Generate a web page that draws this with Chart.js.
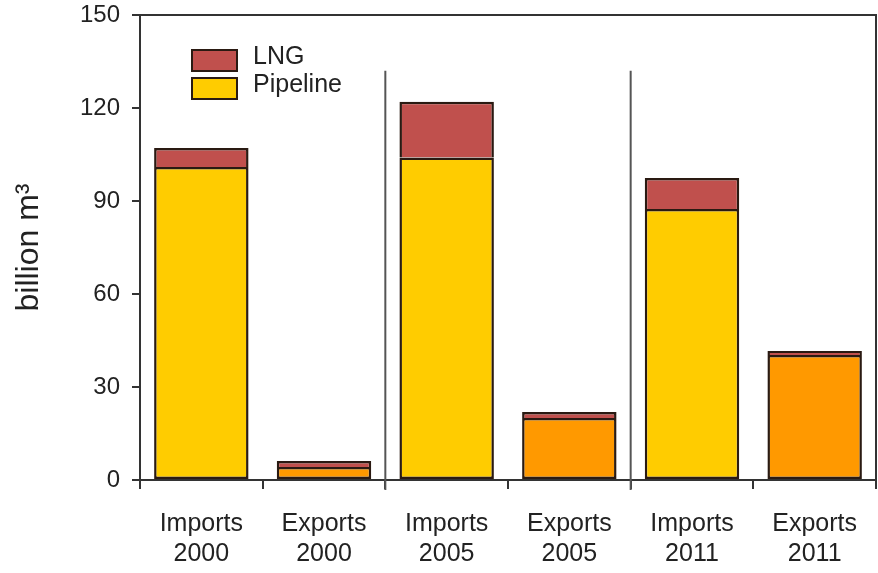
<!DOCTYPE html>
<html>
<head>
<meta charset="utf-8">
<script src="https://cdn.jsdelivr.net/npm/chart.js@4/dist/chart.umd.min.js"></script>
<style>
  html, body { margin: 0; padding: 0; background: #fff; }
  #wrap { width: 878px; height: 573px; position: relative; }
</style>
</head>
<body>
<div id="wrap"><canvas id="gasChart"></canvas></div>
<script>
// categories (two-line labels)
const flows = ["Imports", "Exports", "Imports", "Exports", "Imports", "Exports"];
const years = ["2000", "2000", "2005", "2005", "2011", "2011"];

// billion m3
const pipeline = [101, 4.2, 104, 20, 87.4, 40.3];
const lng = [6.1, 1.9, 18, 1.9, 10, 1.3];

const yTicks = [0, 30, 60, 90, 120, 150];
const dividerTop = 132; // value where the group separators start

const pipelineColors = ["#FFCC00", "#FF9900", "#FFCC00", "#FF9900", "#FFCC00", "#FF9900"];
const lngColor = "#C0504D";
const edge = "#2a1a12";
const ink = "#222";
const font = "'Liberation Sans', Arial, sans-serif";

const labels = flows.map((f, i) => [f, years[i]]);

const decorPlugin = {
  id: "decor",
  afterDatasetsDraw(chart) {
    const { ctx, chartArea: a, scales } = chart;
    const x = scales.x, y = scales.y;
    ctx.save();

    // top + right frame
    ctx.strokeStyle = "#333";
    ctx.lineWidth = 2;
    ctx.beginPath();
    ctx.moveTo(a.left - 8, a.top);
    ctx.lineTo(a.right, a.top);
    ctx.lineTo(a.right, a.bottom);
    ctx.stroke();

    // year group separators
    ctx.strokeStyle = "#555";
    ctx.lineWidth = 2;
    [1, 3].forEach(i => {
      const px = (x.getPixelForValue(i) + x.getPixelForValue(i + 1)) / 2;
      ctx.beginPath();
      ctx.moveTo(px, y.getPixelForValue(dividerTop));
      ctx.lineTo(px, a.bottom + 10);
      ctx.stroke();
    });

    // legend inside plot
    const items = [["LNG", lngColor], ["Pipeline", "#FFCC00"]];
    ctx.font = "25px " + font;
    ctx.textBaseline = "middle";
    items.forEach(([txt, col], k) => {
      const bx = a.left + 52, by = a.top + 35 + k * 28;
      ctx.fillStyle = col;
      ctx.fillRect(bx, by, 45, 21);
      ctx.strokeStyle = edge;
      ctx.lineWidth = 2;
      ctx.strokeRect(bx, by, 45, 21);
      ctx.fillStyle = ink;
      ctx.fillText(txt, bx + 61, by + 7);
    });
    ctx.restore();
  }
};

new Chart(document.getElementById("gasChart"), {
  type: "bar",
  data: {
    labels: labels,
    datasets: [{
      label: "Pipeline",
      data: pipeline,
      backgroundColor: pipelineColors,
      borderColor: edge,
      borderWidth: 2.5,
      borderSkipped: false,
    }, {
      label: "LNG",
      data: lng,
      backgroundColor: lngColor,
      borderColor: edge,
      borderWidth: 2.5,
      borderSkipped: "bottom",
    }],
  },
  options: {
    responsive: true,
    maintainAspectRatio: false,
    animation: false,
    layout: { padding: { top: 15, right: 2, left: 0, bottom: 0 } },
    datasets: { bar: { barPercentage: 0.77, categoryPercentage: 1 } },
    plugins: { legend: { display: false }, tooltip: { enabled: false } },
    scales: {
      x: {
        stacked: true,
        offset: true,
        grid: { display: true, offset: true, drawOnChartArea: false, tickLength: 9, color: "#333", lineWidth: 2 },
        border: { display: true, color: "#333", width: 2 },
        ticks: { color: ink, font: { family: font, size: 25 }, padding: 20, maxRotation: 0 },
        afterFit(s) { s.height = 93; s.paddingLeft = 0; s.paddingRight = 0; },
      },
      y: {
        stacked: true,
        min: 0,
        max: 150,
        afterBuildTicks(s) { s.ticks = yTicks.map(v => ({ value: v })); },
        grid: { drawOnChartArea: false, tickLength: 8, color: "#333", lineWidth: 2 },
        border: { display: true, color: "#333", width: 2 },
        ticks: { color: ink, font: { family: font, size: 24 }, padding: 12 },
        title: { display: true, text: "billion m³", color: ink, font: { family: font, size: 32 }, padding: { top: 10, bottom: 6 } },
        afterFit(s) { s.width = 140; s.paddingTop = 0; s.paddingBottom = 0; },
      },
    },
  },
  plugins: [decorPlugin],
});
</script>
</body>
</html>
